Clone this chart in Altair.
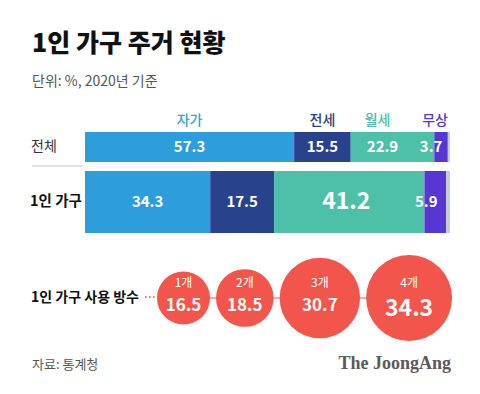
import math
import altair as alt
import pandas as pd

# ---------------- data ----------------
groups = ["전체", "1인 가구"]
tenures = ["자가", "전세", "월세", "무상"]
all_values = [57.3, 15.5, 22.9, 3.7]
single_values = [34.3, 17.5, 41.2, 5.9]

rooms = ["1개", "2개", "3개", "4개"]
room_values = [16.5, 18.5, 30.7, 34.3]

title_text = "1인 가구 주거 현황"
subtitle_text = "단위: %, 2020년 기준"
bubble_row_label = "1인 가구 사용 방수"
source_text = "자료: 통계청"
brand_text = "The JoongAng"

# ---------------- styles / layout ----------------
FONT = "Noto Sans CJK KR"
tenure_colors = ["#2e9ddb", "#28438b", "#4ec0a8", "#5637d4"]
other_color = "#c8cbe0"
bubble_color = "#f2554b"
OFF = 8  # page margin

bar_x0, bar_x1 = 85 - OFF, 450 - OFF
px_per_pct = (bar_x1 - bar_x0) / 100.0
label_shift_px = {"전체": [0, 0, -10, -10], "1인 가구": [0, 0, -3, -9]}
header_shift_px = [0, 0, -15, -6]

rows = []
labels = []
for g, vals in zip(groups, [all_values, single_values]):
    cum = 0.0
    for i, (t, v) in enumerate(zip(tenures, vals)):
        rows.append({"group": g, "tenure": t, "start": cum, "end": cum + v})
        labels.append({"group": g, "tenure": t, "value": v,
                       "lx": cum + v / 2 + label_shift_px[g][i] / px_per_pct,
                       "big": (g == groups[1] and v == max(single_values))})
        cum += v
    rows.append({"group": g, "tenure": "기타", "start": cum, "end": 100.0})
bars_df = pd.DataFrame(rows)
labels_df = pd.DataFrame(labels)

hdr = []
cum = 0.0
for i, (t, v) in enumerate(zip(tenures, all_values)):
    hdr.append({"tenure": t, "hx": cum + v / 2 + header_shift_px[i] / px_per_pct})
    cum += v
hdr_df = pd.DataFrame(hdr)

xscale = alt.Scale(domain=[0, 100], range=[bar_x0, bar_x1])
yscale = alt.Scale(type="point", domain=groups, range=[147 - OFF, 202 - OFF], padding=0)
cscale = alt.Scale(domain=tenures + ["기타"], range=tenure_colors + [other_color])

def bar_layer(g, thickness):
    return alt.Chart(bars_df).transform_filter(alt.datum.group == g).mark_bar(size=thickness).encode(
        x=alt.X("start:Q", scale=xscale, axis=None),
        x2="end:Q",
        y=alt.Y("group:N", scale=yscale, axis=None),
        color=alt.Color("tenure:N", scale=cscale, legend=None),
    )

bars_top = bar_layer("전체", 30)
bars_bot = bar_layer("1인 가구", 62)

bar_labels = alt.Chart(labels_df).transform_filter("!datum.big").mark_text(
    font=FONT, fontSize=15, fontWeight="bold", color="white", baseline="middle", align="center"
).encode(
    x=alt.X("lx:Q", scale=xscale, axis=None),
    y=alt.Y("group:N", scale=yscale, axis=None),
    text=alt.Text("value:Q", format=".1f"),
)
bar_labels_big = alt.Chart(labels_df).transform_filter("datum.big").mark_text(
    font=FONT, fontSize=23, fontWeight="bold", color="white", baseline="middle", align="center"
).encode(
    x=alt.X("lx:Q", scale=xscale, axis=None),
    y=alt.Y("group:N", scale=yscale, axis=None),
    text=alt.Text("value:Q", format=".1f"),
)

headers = alt.Chart(hdr_df).mark_text(
    font=FONT, fontSize=14, fontWeight=500, baseline="middle", align="center"
).encode(
    x=alt.X("hx:Q", scale=xscale, axis=None),
    y=alt.value(121 - OFF),
    text="tenure:N",
    color=alt.Color("tenure:N", scale=alt.Scale(domain=tenures, range=["#3aa0d8", "#27407f", "#4cbca5", "#5637d4"]), legend=None),
)

row_df = pd.DataFrame({"group": groups})
row_lab1 = alt.Chart(row_df).transform_filter(alt.datum.group == groups[0]).mark_text(
    font=FONT, fontSize=14, color="#333333", align="left", baseline="middle"
).encode(x=alt.value(31 - OFF), y=alt.Y("group:N", scale=yscale, axis=None), text="group:N")
row_lab2 = alt.Chart(row_df).transform_filter(alt.datum.group == groups[1]).mark_text(
    font=FONT, fontSize=14.5, fontWeight="bold", color="#111111", align="left", baseline="middle"
).encode(x=alt.value(30 - OFF), y=alt.Y("group:N", scale=yscale, axis=None), text="group:N")

sep = alt.Chart(pd.DataFrame({"a": [0]})).mark_rule(color="#c8c8c8", strokeWidth=1).encode(
    x=alt.value(32 - OFF), x2=alt.value(83 - OFF), y=alt.value(166 - OFF)
)

def txt(s, x, y, size, weight="normal", color="#111111", align="left", font=FONT):
    return alt.Chart(pd.DataFrame({"t": [s]})).mark_text(
        font=font, fontSize=size, fontWeight=weight, color=color, align=align, baseline="middle"
    ).encode(x=alt.value(x - OFF), y=alt.value(y - OFF), text="t:N")

title = txt(title_text, 32, 44, 25, 900, "#111111")
subtitle = txt(subtitle_text, 32, 82, 14, "normal", "#555555")
bubble_lab = txt(bubble_row_label, 31, 298, 14, "bold", "#111111")
source = txt(source_text, 32, 365, 13, "normal", "#555555")
brand = txt(brand_text, 451, 364, 18, "bold", "#5a5a5a", align="right", font="Liberation Serif")

# ---------------- bubbles ----------------
# Vega circle: diameter = sqrt(size)
size_domain = [16.5, 34.3]
size_range = [2809, 7396]

def diam(v):
    a = size_range[0] + (v - size_domain[0]) / (size_domain[1] - size_domain[0]) * (size_range[1] - size_range[0])
    return math.sqrt(a)

gap = 6
start_x = 157 - OFF
cxs = []
prev_edge = start_x - gap
for v in room_values:
    d = diam(v)
    cxs.append(prev_edge + gap + d / 2)
    prev_edge = prev_edge + gap + d
bub_df = pd.DataFrame({"room": rooms, "value": room_values, "cx": cxs,
                       "big": [v == max(room_values) for v in room_values]})
BY = 298 - OFF

conn = alt.Chart(pd.DataFrame({"x1": [cxs[0]], "x2": [cxs[-1]]})).mark_rule(
    color=bubble_color, strokeWidth=1
).encode(x=alt.X("x1:Q", scale=None, axis=None), x2="x2:Q", y=alt.value(BY))

dots = alt.Chart(pd.DataFrame({"a": [0]})).mark_rule(
    color=bubble_color, strokeWidth=1.6, strokeDash=[1.6, 2.4]
).encode(x=alt.value(145 - OFF), x2=alt.value(157 - OFF), y=alt.value(BY - 1))

bubbles = alt.Chart(bub_df).mark_circle(color=bubble_color, opacity=1).encode(
    x=alt.X("cx:Q", scale=None, axis=None),
    y=alt.value(BY),
    size=alt.Size("value:Q", scale=alt.Scale(domain=size_domain, range=size_range), legend=None),
)
bub_room = alt.Chart(bub_df).mark_text(
    font=FONT, fontSize=12, color="white", baseline="middle", align="center"
).encode(x=alt.X("cx:Q", scale=None, axis=None), y=alt.value(BY - 15), text="room:N")
bub_val = alt.Chart(bub_df).transform_filter("!datum.big").mark_text(
    font=FONT, fontSize=17, fontWeight="bold", color="white", baseline="middle", align="center"
).encode(x=alt.X("cx:Q", scale=None, axis=None), y=alt.value(BY + 8),
         text=alt.Text("value:Q", format=".1f"))
bub_val_big = alt.Chart(bub_df).transform_filter("datum.big").mark_text(
    font=FONT, fontSize=23, fontWeight="bold", color="white", baseline="middle", align="center"
).encode(x=alt.X("cx:Q", scale=None, axis=None), y=alt.value(BY + 11),
         text=alt.Text("value:Q", format=".1f"))

chart = alt.layer(
    bars_top, bars_bot, bar_labels, bar_labels_big, headers, row_lab1, row_lab2, sep,
    title, subtitle, conn, dots, bubbles, bub_room, bub_val, bub_val_big, bubble_lab,
    source, brand,
).resolve_scale(x="independent", y="independent", size="independent", color="independent").properties(
    width=464, height=370, padding=0, autosize=alt.AutoSizeParams(type="none"),
    background="white",
).configure_view(stroke=None)

chart.save("out.html", embed_options={"renderer": "svg", "actions": False})
